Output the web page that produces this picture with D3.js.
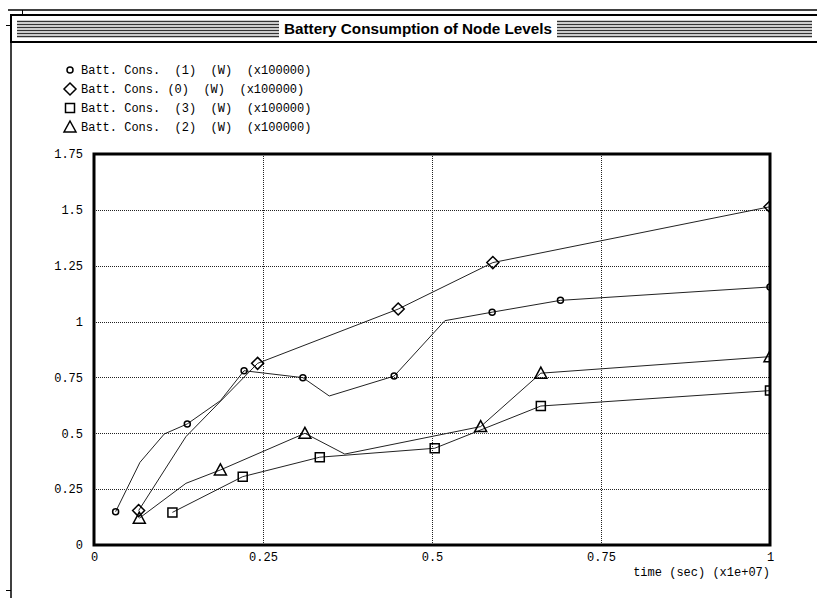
<!DOCTYPE html>
<html>
<head>
<meta charset="utf-8">
<script src="https://cdn.jsdelivr.net/npm/d3@7"></script>
<style>
  body { margin: 0; background: #fff; }
  svg { display: block; }
  .tick text { font-family: "Liberation Mono", monospace; font-size: 12px; fill: #000; }
</style>
</head>
<body>
<div id="chart"></div>
<script>
// data (time in 1e7 sec, consumption in 1e5 W)
const seriesNames = [
    "Batt. Cons.  (1)  (W)  (x100000)",
    "Batt. Cons. (0)  (W)  (x100000)",
    "Batt. Cons.  (3)  (W)  (x100000)",
    "Batt. Cons.  (2)  (W)  (x100000)"
]
const seriesShapes = ["circle", "diamond", "square", "triangle"]

const time1 = [0.032, 0.068, 0.104, 0.138, 0.187, 0.222, 0.309, 0.348, 0.444, 0.519, 0.589, 0.690, 1.0]
const batt1 = [0.149, 0.370, 0.497, 0.542, 0.646, 0.780, 0.749, 0.667, 0.756, 1.004, 1.042, 1.095, 1.155]
const mark1 = [1, 0, 0, 1, 0, 1, 1, 0, 1, 0, 1, 1, 1]

const time0 = [0.066, 0.136, 0.242, 0.450, 0.590, 1.0]
const batt0 = [0.154, 0.485, 0.813, 1.056, 1.264, 1.514]
const mark0 = [1, 0, 1, 1, 1, 1]

const time3 = [0.116, 0.220, 0.334, 0.504, 0.661, 1.0]
const batt3 = [0.146, 0.306, 0.393, 0.433, 0.622, 0.691]
const mark3 = [1, 1, 1, 1, 1, 1]

const time2 = [0.067, 0.136, 0.187, 0.312, 0.371, 0.572, 0.661, 1.0]
const batt2 = [0.120, 0.276, 0.336, 0.500, 0.407, 0.530, 0.769, 0.843]
const mark2 = [1, 0, 1, 1, 0, 1, 1, 1]

const xTicks = [0, 0.25, 0.5, 0.75, 1]
const yTicks = [0, 0.25, 0.5, 0.75, 1, 1.25, 1.5, 1.75]
const xTickLabels = ["0", "0.25", "0.5", "0.75", "1"]
const yTickLabels = ["0", "0.25", "0.5", "0.75", "1", "1.25", "1.5", "1.75"]

const width = 817
const height = 598
const plot = { left: 94, right: 770, top: 154, bottom: 545 }

const series = [
    { t: time1, b: batt1, m: mark1, shape: "circle" },
    { t: time0, b: batt0, m: mark0, shape: "diamond" },
    { t: time3, b: batt3, m: mark3, shape: "square" },
    { t: time2, b: batt2, m: mark2, shape: "triangle" }
].map(s => ({ shape: s.shape, points: s.t.map((t, i) => ({ t: t, b: s.b[i], mark: s.m[i] })) }))

// marker paths centred on 0,0
const markerPath = function(shape) {
    if (shape === "circle") { const r = 3; return `M${r},0A${r},${r} 0 1,1 ${-r},0A${r},${r} 0 1,1 ${r},0Z` }
    if (shape === "diamond") { const r = 6; return `M0,${-r}L${r},0L0,${r}L${-r},0Z` }
    if (shape === "square") { const r = 4.5; return `M${-r},${-r}H${r}V${r}H${-r}Z` }
    return `M0,-6L6,5L-6,5Z`
}

const svg = d3.select("#chart")
    .append("svg")
    .attr("width", width)
    .attr("height", height)

// window frame + title bar
const frame = svg.append("g").attr("id", "frame")
frame.append("line").attr("x1", 8).attr("x2", width).attr("y1", 10).attr("y2", 10)
    .attr("stroke", "#000").attr("stroke-width", 1.5)
frame.append("line").attr("x1", 22.5).attr("x2", 22.5).attr("y1", 10).attr("y2", 15)
    .attr("stroke", "#000")
frame.append("line").attr("x1", 11).attr("x2", 11).attr("y1", 14).attr("y2", height)
    .attr("stroke", "#000").attr("stroke-width", 1.5)
frame.append("line").attr("x1", 6).attr("x2", 11).attr("y1", 25.5).attr("y2", 25.5)
    .attr("stroke", "#000")
frame.append("line").attr("x1", 6).attr("x2", 11).attr("y1", 590.5).attr("y2", 590.5)
    .attr("stroke", "#000")
frame.append("rect").attr("x", 11).attr("y", 15).attr("width", width).attr("height", 27)
    .attr("fill", "#fff").attr("stroke", "#000").attr("stroke-width", 2)

const stripeY = [21, 24, 27, 30, 33, 36]
stripeY.forEach(y => {
    frame.append("line").attr("x1", 17).attr("x2", 279).attr("y1", y + 0.5).attr("y2", y + 0.5)
        .attr("stroke", "#333").attr("stroke-width", 1.5)
    frame.append("line").attr("x1", 557).attr("x2", 812).attr("y1", y + 0.5).attr("y2", y + 0.5)
        .attr("stroke", "#333").attr("stroke-width", 1.5)
})
frame.append("text")
    .attr("x", 418).attr("y", 34)
    .attr("text-anchor", "middle")
    .attr("font-family", "Liberation Sans, Arial, sans-serif")
    .attr("font-weight", "bold")
    .attr("font-size", 15)
    .attr("textLength", 268)
    .attr("lengthAdjust", "spacingAndGlyphs")
    .text("Battery Consumption of Node Levels")

// scales
const x = d3.scaleLinear().domain([0, 1]).range([plot.left, plot.right])
const y = d3.scaleLinear().domain([0, 1.75]).range([plot.bottom, plot.top])

// grid
const grid = svg.append("g").attr("id", "grid")
grid.selectAll("line.h").data(yTicks.slice(1, -1)).enter().append("line")
    .attr("x1", plot.left).attr("x2", plot.right)
    .attr("y1", d => Math.round(y(d)) + 0.5).attr("y2", d => Math.round(y(d)) + 0.5)
    .attr("stroke", "#222").attr("stroke-dasharray", "1,1")
grid.selectAll("line.v").data(xTicks.slice(1, -1)).enter().append("line")
    .attr("x1", d => Math.round(x(d)) + 0.5).attr("x2", d => Math.round(x(d)) + 0.5)
    .attr("y1", plot.top).attr("y2", plot.bottom)
    .attr("stroke", "#222").attr("stroke-dasharray", "1,1")

// axes (labels only)
const xAxis = d3.axisBottom(x).tickValues(xTicks).tickSize(0).tickPadding(7)
    .tickFormat((d, i) => xTickLabels[i])
const yAxis = d3.axisLeft(y).tickValues(yTicks).tickSize(0).tickPadding(11)
    .tickFormat((d, i) => yTickLabels[i])
const xAxisGroup = svg.append("g").attr("transform", `translate(0, ${plot.bottom})`).call(xAxis)
const yAxisGroup = svg.append("g").attr("transform", `translate(${plot.left}, 0)`).call(yAxis)
xAxisGroup.select(".domain").remove()
yAxisGroup.select(".domain").remove()

svg.append("text")
    .attr("x", plot.right).attr("y", 576)
    .attr("text-anchor", "end")
    .attr("font-family", "Liberation Mono, monospace")
    .attr("font-size", 12)
    .text("time (sec)  (x1e+07)")

// lines and markers
svg.append("clipPath").attr("id", "clip")
    .append("rect").attr("x", plot.left).attr("y", plot.top)
    .attr("width", plot.right - plot.left).attr("height", plot.bottom - plot.top)

const elementGroup = svg.append("g").attr("clip-path", "url(#clip)")
const line = d3.line().x(d => x(d.t)).y(d => y(d.b))

series.forEach(s => {
    elementGroup.append("path")
        .datum(s.points)
        .attr("fill", "none")
        .attr("stroke", "#222")
        .attr("stroke-width", 1)
        .attr("d", line)
    elementGroup.selectAll(null).data(s.points.filter(p => p.mark)).enter().append("path")
        .attr("transform", d => `translate(${x(d.t)}, ${y(d.b)})`)
        .attr("d", markerPath(s.shape))
        .attr("fill", "none")
        .attr("stroke", "#000")
        .attr("stroke-width", 1.5)
})

// plot border
svg.append("rect")
    .attr("x", plot.left).attr("y", plot.top)
    .attr("width", plot.right - plot.left).attr("height", plot.bottom - plot.top)
    .attr("fill", "none").attr("stroke", "#000").attr("stroke-width", 3)

// legend
const legendY = [70, 89, 108, 127]
const legend = svg.append("g").attr("id", "legend")
seriesNames.forEach((name, i) => {
    legend.append("path")
        .attr("transform", `translate(70, ${legendY[i]})`)
        .attr("d", markerPath(seriesShapes[i]))
        .attr("fill", "none").attr("stroke", "#000").attr("stroke-width", 1.5)
    legend.append("text")
        .attr("x", 81).attr("y", legendY[i] + 4)
        .attr("font-family", "Liberation Mono, monospace")
        .attr("font-size", 12)
        .style("white-space", "pre")
        .text(name)
})
</script>
</body>
</html>
